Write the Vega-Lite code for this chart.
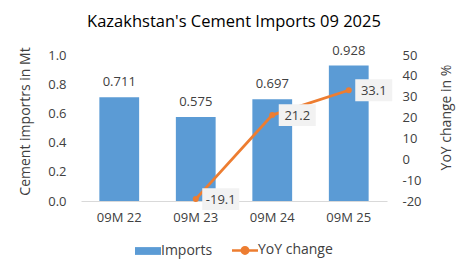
{
  "$schema": "https://vega.github.io/schema/vega-lite/v6.json",
  "width": 306,
  "height": 146,
  "autosize": "none",
  "padding": {"left": 81, "top": 55, "right": 78, "bottom": 71},
  "background": "white",
  "config": {
    "font": "Open Sans",
    "view": {"stroke": null},
    "axis": {"labelColor": "#404040", "titleColor": "#404040", "labelFontSize": 13, "titleFontSize": 14, "titleFontWeight": "normal", "grid": false, "ticks": false, "domain": false},
    "legend": {"labelColor": "#404040", "labelFontSize": 14}
  },
  "title": {"text": "Kazakhstan's Cement Imports 09 2025", "fontSize": 16.5, "fontWeight": "normal", "color": "#000000", "anchor": "middle", "frame": "group", "offset": 14},
  "data": {
    "values": [
      {"period": "09M 22", "imports": 0.711, "yoy": null},
      {"period": "09M 23", "imports": 0.575, "yoy": -19.1},
      {"period": "09M 24", "imports": 0.697, "yoy": 21.2},
      {"period": "09M 25", "imports": 0.928, "yoy": 33.1}
    ]
  },
  "encoding": {
    "x": {"field": "period", "type": "nominal", "sort": null, "title": null,
      "scale": {"paddingInner": 0.48, "paddingOuter": 0.24},
      "axis": {"labelAngle": 0, "labelPadding": 10, "domain": true, "domainColor": "#D9D9D9", "domainWidth": 1}}
  },
  "layer": [
    {
      "encoding": {
        "y": {"field": "imports", "type": "quantitative", "title": "Cement importrs in Mt",
          "scale": {"domain": [0, 1]},
          "axis": {"orient": "left", "values": [0, 0.2, 0.4, 0.6, 0.8, 1.0], "format": ".1f", "labelPadding": 15, "titlePadding": 15, "titleY": 66}}
      },
      "layer": [
        {"mark": {"type": "bar", "color": "#5B9BD5"},
         "encoding": {"color": {"datum": "Imports", "type": "nominal",
           "scale": {"domain": ["Imports", "YoY change"], "range": ["#5B9BD5", "#ED7D31"]},
           "legend": {"orient": "none", "legendX": 60, "legendY": 188, "direction": "horizontal", "title": null, "symbolSize": 676, "labelOffset": 6, "columnPadding": 14,
             "encode": {"symbols": {"update": {
               "shape": {"signal": "datum.value === 'Imports' ? 'M-1,-0.3H1V0.3H-1Z' : 'M-1,0H1M0.25,0A0.25,0.25 0 1 1 -0.25,0A0.25,0.25 0 1 1 0.25,0'"},
               "fill": {"signal": "datum.value === 'Imports' ? '#5B9BD5' : '#ED7D31'"},
               "stroke": {"signal": "datum.value === 'Imports' ? '#5B9BD5' : '#ED7D31'"},
               "strokeWidth": {"signal": "datum.value === 'Imports' ? 0 : 2.5"},
               "opacity": {"value": 1},
               "fillOpacity": {"value": 1}
             }}}}}}},
        {"mark": {"type": "text", "baseline": "bottom", "dy": -8, "fontSize": 13, "color": "#404040"},
         "encoding": {"text": {"field": "imports", "type": "quantitative", "format": ".3f"}}}
      ]
    },
    {
      "transform": [{"filter": "datum.yoy != null"}],
      "encoding": {
        "y": {"field": "yoy", "type": "quantitative", "title": "YoY change in %",
          "scale": {"domain": [-20, 50]},
          "axis": {"orient": "right", "values": [-20, -10, 0, 10, 20, 30, 40, 50], "labelExpr": "'' + datum.value", "labelPadding": 15, "titlePadding": 32, "titleAngle": 270, "titleY": 62}}
      },
      "layer": [
        {"mark": {"type": "line", "strokeWidth": 2.75, "point": {"filled": true, "size": 36, "color": "#ED7D31"}},
         "encoding": {"color": {"datum": "YoY change", "type": "nominal"}}},
        {"mark": {"type": "point", "filled": true, "shape": "M-1,-0.59H1V0.59H-1Z", "size": 1369, "color": "#F2F2F2", "opacity": 1, "xOffset": 25, "yOffset": 0}},
        {"mark": {"type": "text", "fontSize": 13, "color": "#404040", "align": "center", "baseline": "middle", "xOffset": 25, "yOffset": 1},
         "encoding": {"text": {"field": "yoy", "type": "nominal"}}}
      ]
    }
  ],
  "resolve": {"scale": {"y": "independent"}}
}
